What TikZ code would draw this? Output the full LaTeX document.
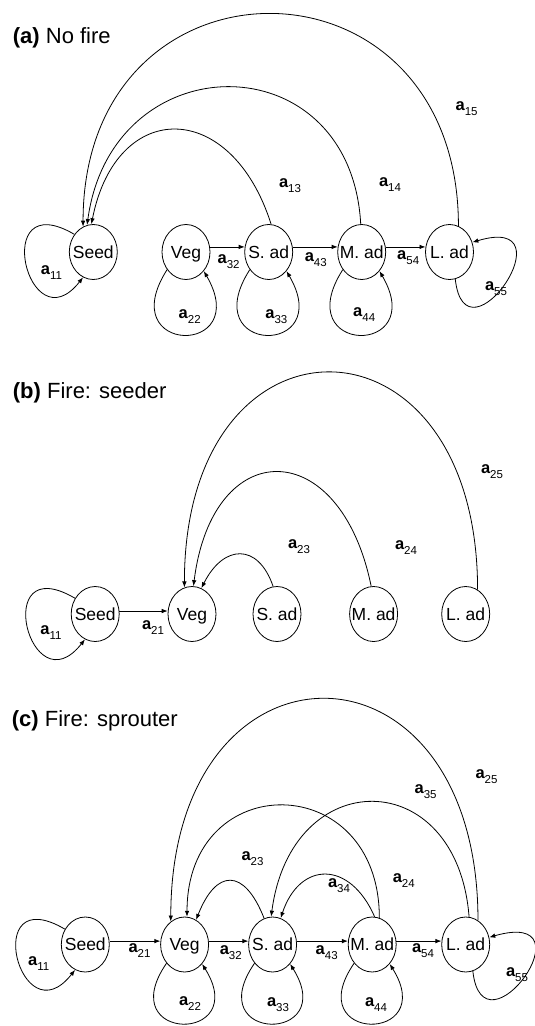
\documentclass[tikz,border=0pt]{standalone}
\usepackage{fontspec}
\setmainfont{Liberation Sans}
\usetikzlibrary{arrows.meta,shapes.geometric}
\newcommand\stx[1]{\makebox[0pt]{#1}}
\newcommand\alab[1]{{\fontsize{16.5}{16.5}\selectfont\bfseries a}\raisebox{-5pt}{\fontsize{11.5}{11.5}\selectfont #1}}
\tikzset{
  st/.style={ellipse, draw, line width=0.8pt, minimum width=48pt, minimum height=55pt, inner sep=0pt,
    text height=12.5pt, text depth=0pt, font=\fontsize{17.5}{17.5}\selectfont},
  arr/.style={line width=0.8pt, -{Latex[length=6pt,width=4.5pt]}},
  lab/.style={inner sep=0pt},
  ttl/.style={anchor=base west, inner sep=0pt, font=\fontsize{22}{22}\selectfont}
}
\begin{document}
\begin{tikzpicture}[x=1pt,y=-1pt]
\useasboundingbox (0,0) rectangle (535,1026);
\fill[white] (0,0) rectangle (535,1026);
% ---------------- (a)
\node[ttl] (ta) at (12.7,43.7) {{\bfseries (a)} No fire};
\node[st] (seedA) at (93.3,252) {\stx{Seed}};
\node[st] (vegA) at (186,252) {\stx{Veg}};
\node[st] (sadA) at (268.7,252) {\stx{S. ad}};
\node[st] (madA) at (361.7,252) {\stx{M. ad}};
\node[st] (ladA) at (449.5,252) {\stx{L. ad}};
\draw[arr] (ladA.71) .. controls ([yshift=283pt]ladA.71) and ([yshift=283pt]seedA.112) .. (seedA.112);
\draw[arr] (madA.92) .. controls ([xshift=-10pt,yshift=183pt]madA.92) and ([xshift=25pt,yshift=183pt]seedA.103) .. (seedA.103);
\draw[arr] (sadA.85) .. controls ([xshift=-40pt,yshift=126pt]sadA.85) and ([xshift=25pt,yshift=126pt]seedA.94) .. (seedA.94);
\draw[arr] (seedA.137) .. controls ([xshift=-85pt,yshift=50pt]seedA.137) and ([xshift=-55pt,yshift=-70pt]seedA.248) .. (seedA.248);
\draw[arr] (vegA.223) .. controls ([xshift=-55pt,yshift=-86pt]vegA.223) and ([xshift=50pt,yshift=-86pt]vegA.313) .. (vegA.313);
\draw[arr] (sadA.223) .. controls ([xshift=-55pt,yshift=-86pt]sadA.223) and ([xshift=50pt,yshift=-86pt]sadA.313) .. (sadA.313);
\draw[arr] (madA.223) .. controls ([xshift=-55pt,yshift=-86pt]madA.223) and ([xshift=50pt,yshift=-86pt]madA.313) .. (madA.313);
\draw[arr] (ladA.282) .. controls ([xshift=10pt,yshift=-90pt]ladA.282) and ([xshift=100pt,yshift=30pt]ladA.23) .. (ladA.23);
\draw[arr] (vegA.12) -- (sadA.168);
\draw[arr] (sadA.12) -- (madA.168);
\draw[arr] (madA.12) -- (ladA.168);
\node[lab] (la15) at (466.6,109) {\alab{15}};
\node[lab] (la13) at (290,186) {\alab{13}};
\node[lab] (la14) at (390,185) {\alab{14}};
\node[lab] (la11) at (51.5,273) {\alab{11}};
\node[lab] (la32) at (228.6,262) {\alab{32}};
\node[lab] (la43) at (315.8,260) {\alab{43}};
\node[lab] (la54) at (408.2,258) {\alab{54}};
\node[lab] (la22) at (189.7,317) {\alab{22}};
\node[lab] (la33) at (276.4,317) {\alab{33}};
\node[lab] (la44) at (364.2,315) {\alab{44}};
\node[lab] (la55) at (496,289) {\alab{55}};
% ---------------- (b)
\node[ttl] (tb) at (12.7,398.5) {{\bfseries (b)} Fire: seeder};
\node[st] (seedB) at (95.2,614) {\stx{Seed}};
\node[st] (vegB) at (192,614) {\stx{Veg}};
\node[st] (sadB) at (277,614) {\stx{S. ad}};
\node[st] (madB) at (373.6,614) {\stx{M. ad}};
\node[st] (ladB) at (465.7,614) {\stx{L. ad}};
\draw[arr] (ladB.64) .. controls ([yshift=288pt]ladB.64) and ([yshift=288pt]vegB.106) .. (vegB.106);
\draw[arr] (madB.95) .. controls ([xshift=-31pt,yshift=152pt]madB.95) and ([xshift=19pt,yshift=152pt]vegB.87) .. (vegB.87);
\draw[arr] (sadB.98) .. controls ([xshift=-15pt,yshift=44pt]sadB.98) and ([xshift=22pt,yshift=44pt]vegB.70) .. (vegB.70);
\draw[arr] (seedB.142) .. controls ([xshift=-85pt,yshift=50pt]seedB.142) and ([xshift=-55pt,yshift=-70pt]seedB.248) .. (seedB.248);
\draw[arr] (seedB.7) -- (vegB.173);
\node[lab] (lb25) at (492,472) {\alab{25}};
\node[lab] (lb23) at (299,547) {\alab{23}};
\node[lab] (lb24) at (406,548) {\alab{24}};
\node[lab] (lb11) at (51,633) {\alab{11}};
\node[lab] (lb21) at (153,628) {\alab{21}};
% ---------------- (c)
\node[ttl] (tc) at (11.7,726.7) {{\bfseries (c)} Fire: sprouter};
\node[st] (seedC) at (85.3,944.5) {\stx{Seed}};
\node[st] (vegC) at (184.6,944.5) {\stx{Veg}};
\node[st] (sadC) at (272.6,944.5) {\stx{S. ad}};
\node[st] (madC) at (372.2,944.5) {\stx{M. ad}};
\node[st] (ladC) at (465.7,944.5) {\stx{L. ad}};
\draw[arr] (ladC.63) .. controls ([yshift=296pt]ladC.63) and ([yshift=296pt]vegC.121) .. (vegC.121);
\draw[arr] (madC.75) .. controls ([yshift=149pt]madC.75) and ([yshift=149pt]vegC.85) .. (vegC.85);
\draw[arr] (ladC.83) .. controls ([xshift=-12pt,yshift=153pt]ladC.83) and ([xshift=20pt,yshift=153pt]sadC.93) .. (sadC.93);
\draw[arr] (sadC.108) .. controls ([xshift=-20pt,yshift=51pt]sadC.108) and ([xshift=20pt,yshift=51pt]vegC.65) .. (vegC.65);
\draw[arr] (madC.85) .. controls ([xshift=-25pt,yshift=57pt]madC.85) and ([xshift=19pt,yshift=57pt]sadC.73) .. (sadC.73);
\draw[arr] (seedC.143) .. controls ([xshift=-85pt,yshift=50pt]seedC.143) and ([xshift=-55pt,yshift=-70pt]seedC.248) .. (seedC.248);
\draw[arr] (vegC.226) .. controls ([xshift=-55pt,yshift=-80pt]vegC.226) and ([xshift=50pt,yshift=-80pt]vegC.312) .. (vegC.312);
\draw[arr] (sadC.226) .. controls ([xshift=-55pt,yshift=-80pt]sadC.226) and ([xshift=50pt,yshift=-80pt]sadC.312) .. (sadC.312);
\draw[arr] (madC.226) .. controls ([xshift=-55pt,yshift=-80pt]madC.226) and ([xshift=50pt,yshift=-80pt]madC.312) .. (madC.312);
\draw[arr] (ladC.285) .. controls ([xshift=10pt,yshift=-90pt]ladC.285) and ([xshift=105pt,yshift=30pt]ladC.17) .. (ladC.17);
\draw[arr] (seedC.8) -- (vegC.172);
\draw[arr] (vegC.8) -- (sadC.172);
\draw[arr] (sadC.8) -- (madC.172);
\draw[arr] (madC.8) -- (ladC.172);
\node[lab] (lc25) at (486.5,777) {\alab{25}};
\node[lab] (lc35) at (425.6,792) {\alab{35}};
\node[lab] (lc23) at (252.5,858.7) {\alab{23}};
\node[lab] (lc34) at (339,885.5) {\alab{34}};
\node[lab] (lc24) at (403.8,881) {\alab{24}};
\node[lab] (lc11) at (38.7,963.7) {\alab{11}};
\node[lab] (lc21) at (139.5,951) {\alab{21}};
\node[lab] (lc32) at (230.8,952.8) {\alab{32}};
\node[lab] (lc43) at (326.7,952.8) {\alab{43}};
\node[lab] (lc54) at (423,951) {\alab{54}};
\node[lab] (lc22) at (190,1004) {\alab{22}};
\node[lab] (lc33) at (278,1005) {\alab{33}};
\node[lab] (lc44) at (376,1005) {\alab{44}};
\node[lab] (lc55) at (517,975) {\alab{55}};
\end{tikzpicture}
\end{document}
